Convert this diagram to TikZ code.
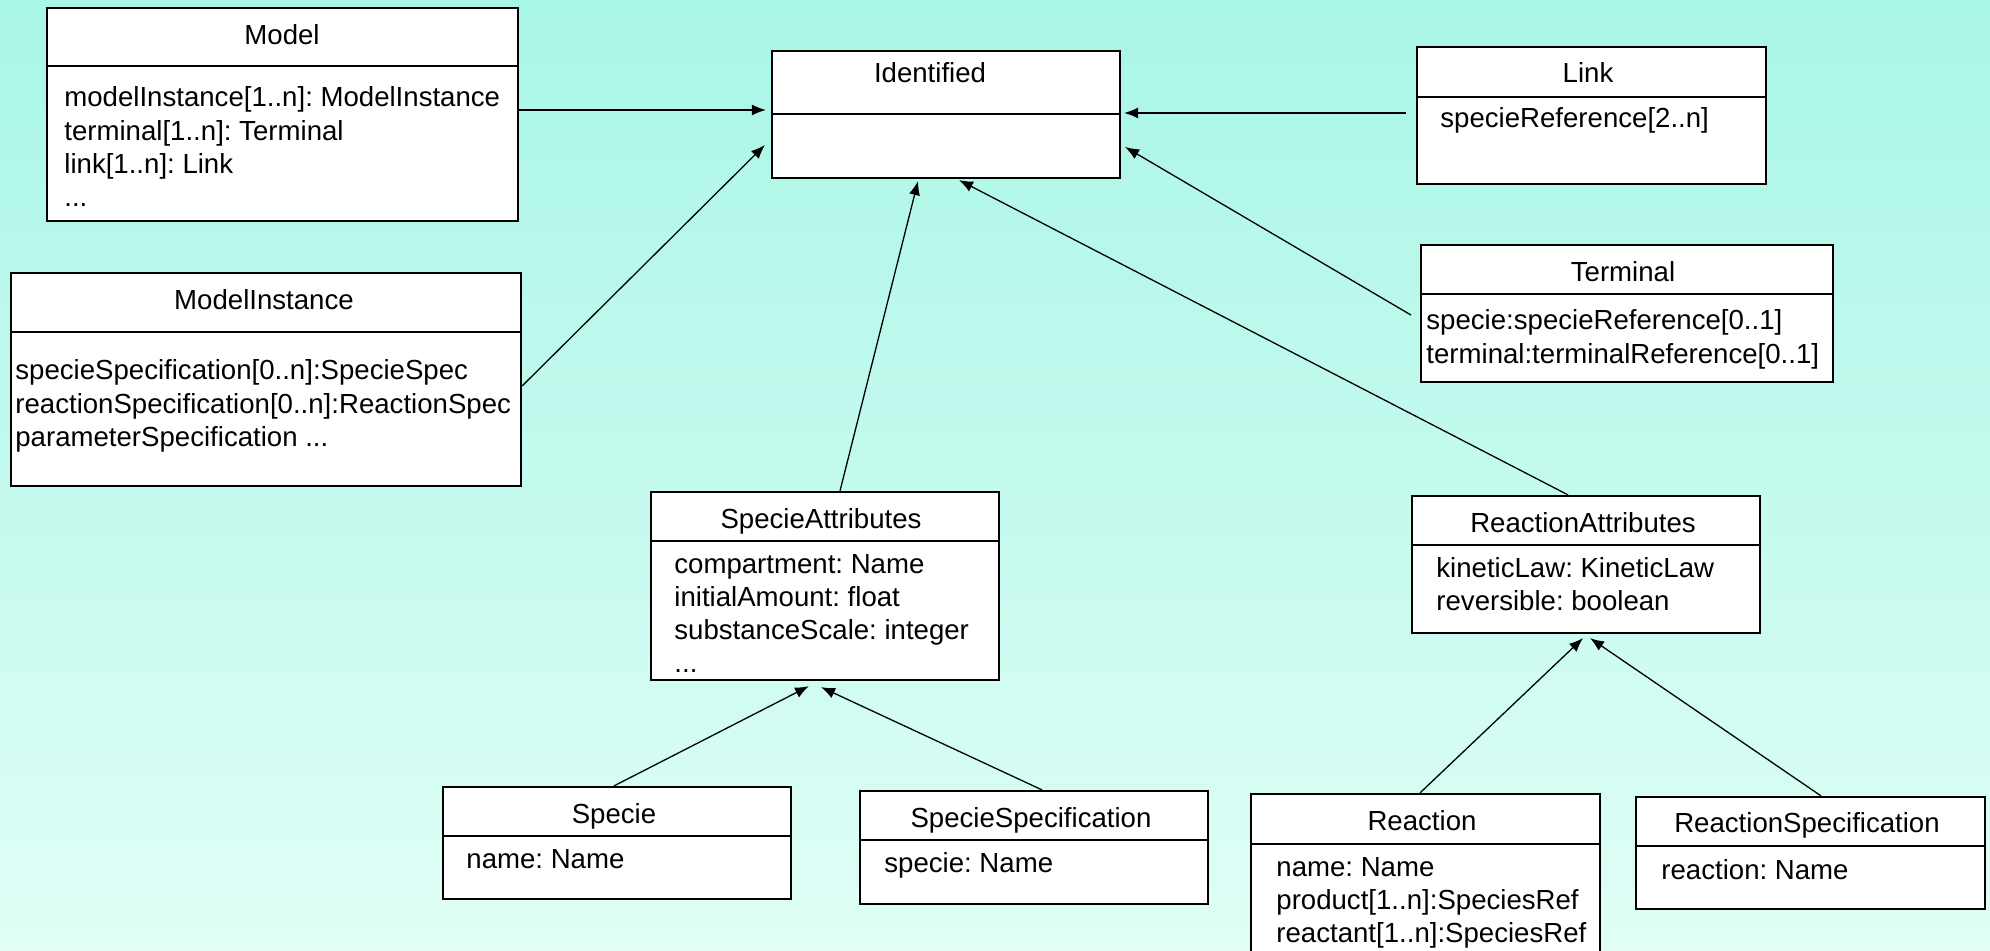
\documentclass[tikz,border=0pt]{standalone}
\usepackage{fontspec}
\setmainfont{Liberation Sans}
\usetikzlibrary{arrows.meta}
\usetikzlibrary{calc}
\usetikzlibrary{fit}
\definecolor{bgtop}{RGB}{168,246,230}
\definecolor{bgbot}{RGB}{224,254,246}
\frenchspacing
\tikzset{
  box/.style={draw, fill=white, line width=1.1pt, inner sep=0pt},
  divider/.style={line width=1.1pt},
  title/.style={anchor=base, inner sep=0pt},
  attr/.style={anchor=base west, inner sep=0pt},
  inh/.style={line width=0.65pt, -{Latex[length=7pt,width=5.5pt]}},
}
\begin{document}
\begin{tikzpicture}[x=0.5pt, y=-0.5pt, font=\fontsize{13.8}{16.6}\selectfont]
\clip (0,0) rectangle (1990,951);
\shade[top color=bgtop, bottom color=bgbot] (0,0) rectangle (1990,951);

% Model
\node[box, fit={(47,8) (518,221)}] (model) {};
\draw[divider] (model.west |- 0,66) -- (model.east |- 0,66);
\node[title] (model-t) at (282,45) {Model};
\node[attr] (model-a) at (64,107) {\begin{tabular}[t]{@{}l@{}}modelInstance[1..n]: ModelInstance\\terminal[1..n]: Terminal\\link[1..n]: Link\\...\end{tabular}};

% ModelInstance
\node[box, fit={(11,273) (521,486)}] (mi) {};
\draw[divider] (mi.west |- 0,332) -- (mi.east |- 0,332);
\node[title] (mi-t) at (264,310) {ModelInstance};
\node[attr] (mi-a) at (15,380) {\begin{tabular}[t]{@{}l@{}}specieSpecification[0..n]:SpecieSpec\\reactionSpecification[0..n]:ReactionSpec\\parameterSpecification ...\end{tabular}};

% Identified
\node[box, fit={(772,51) (1120,178)}] (ident) {};
\draw[divider] (ident.west |- 0,114) -- (ident.east |- 0,114);
\node[title] (ident-t) at (930,83) {Identified};

% Link
\node[box, fit={(1417,47) (1766,184)}] (link) {};
\draw[divider] (link.west |- 0,97) -- (link.east |- 0,97);
\node[title] (link-t) at (1588,83) {Link};
\node[attr] (link-a) at (1440,128) {specieReference[2..n]};

% Terminal
\node[box, fit={(1421,245) (1833,382)}] (term) {};
\draw[divider] (term.west |- 0,294) -- (term.east |- 0,294);
\node[title] (term-t) at (1623,282) {Terminal};
\node[attr] (term-a) at (1426,330) {\begin{tabular}[t]{@{}l@{}}specie:specieReference[0..1]\\terminal:terminalReference[0..1]\end{tabular}};

% SpecieAttributes
\node[box, fit={(651,492) (999,680)}] (satt) {};
\draw[divider] (satt.west |- 0,541) -- (satt.east |- 0,541);
\node[title] (satt-t) at (821,528) {SpecieAttributes};
\node[attr] (satt-a) at (674,573) {\begin{tabular}[t]{@{}l@{}}compartment: Name\\initialAmount: float\\substanceScale: integer\\...\end{tabular}};

% ReactionAttributes
\node[box, fit={(1412,496) (1760,633)}] (ratt) {};
\draw[divider] (ratt.west |- 0,545) -- (ratt.east |- 0,545);
\node[title] (ratt-t) at (1583,532) {ReactionAttributes};
\node[attr] (ratt-a) at (1436,577) {\begin{tabular}[t]{@{}l@{}}kineticLaw: KineticLaw\\reversible: boolean\end{tabular}};

% Specie
\node[box, fit={(443,787) (791,899)}] (specie) {};
\draw[divider] (specie.west |- 0,836) -- (specie.east |- 0,836);
\node[title] (specie-t) at (614,823) {Specie};
\node[attr] (specie-a) at (466,868) {name: Name};

% SpecieSpecification
\node[box, fit={(860,791) (1208,904)}] (sspec) {};
\draw[divider] (sspec.west |- 0,840) -- (sspec.east |- 0,840);
\node[title] (sspec-t) at (1031,827) {SpecieSpecification};
\node[attr] (sspec-a) at (884,872) {specie: Name};

% Reaction
\node[box, fit={(1251,794) (1600,990)}] (react) {};
\draw[divider] (react.west |- 0,844) -- (react.east |- 0,844);
\node[title] (react-t) at (1422,830) {Reaction};
\node[attr] (react-a) at (1276,876) {\begin{tabular}[t]{@{}l@{}}name: Name\\product[1..n]:SpeciesRef\\reactant[1..n]:SpeciesRef\end{tabular}};

% ReactionSpecification
\node[box, fit={(1636,797) (1985,909)}] (rspec) {};
\draw[divider] (rspec.west |- 0,846) -- (rspec.east |- 0,846);
\node[title] (rspec-t) at (1807,832) {ReactionSpecification};
\node[attr] (rspec-a) at (1661,879) {reaction: Name};

% arrows
\draw[inh] (model.east |- 0,110) -- ($(ident.west |- 0,110)+(-5,0)$);
\draw[inh] (mi.east |- 0,386) -- ($(ident.west |- 0,145)+(-6,0)$);
\draw[inh] ($(link.west |- 0,113)+(-10,0)$) -- ($(ident.east |- 0,113)+(3,0)$);
\draw[inh] ($(term.west |- 0,315)+(-9,0)$) -- ($(ident.east |- 0,147)+(4,0)$);
\draw[inh] (840,0 |- satt.north) -- ($(918,0 |- ident.south)+(0,2)$);
\draw[inh] (1568,0 |- ratt.north) -- ($(959,0 |- ident.south)+(0,1)$);
\draw[inh] (614,0 |- specie.north) -- ($(809,0 |- satt.south)+(0,5)$);
\draw[inh] (1042,0 |- sspec.north) -- ($(821,0 |- satt.south)+(0,6)$);
\draw[inh] (1420,0 |- react.north) -- ($(1583,0 |- ratt.south)+(0,4)$);
\draw[inh] (1821,0 |- rspec.north) -- ($(1590,0 |- ratt.south)+(0,4)$);
\end{tikzpicture}
\end{document}
